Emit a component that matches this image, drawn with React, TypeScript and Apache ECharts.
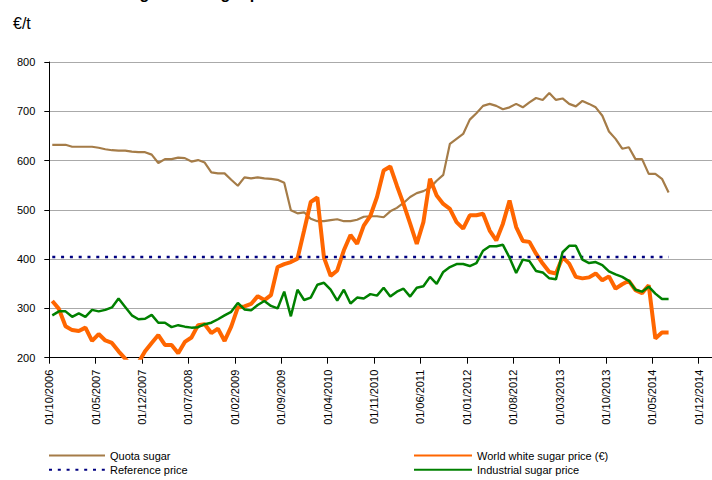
import React, { useEffect, useRef } from "react";
import * as echarts from "echarts";

// Tick labels every 7 months, starting at October 2006
const tickLabels = [
  "01/10/2006", "01/05/2007", "01/12/2007", "01/07/2008", "01/02/2009",
  "01/09/2009", "01/04/2010", "01/11/2010", "01/06/2011", "01/01/2012",
  "01/08/2012", "01/03/2013", "01/10/2013", "01/05/2014", "01/12/2014",
];

// Monthly values, October 2006 to July 2014 (EUR/t)
const quotaSugar = [
  632, 632, 632, 628, 628, 628, 628, 626, 623, 621,
  620, 620, 618, 617, 617, 612, 595, 603, 603, 606,
  605, 598, 601, 596, 576, 574, 574, 561, 549, 566,
  564, 566, 564, 563, 561, 555, 499, 493, 495, 482,
  477, 477, 479, 481, 477, 477, 480, 486, 487, 487,
  485, 497, 504, 514, 526, 534, 538, 545, 559, 571,
  634, 644, 654, 683, 696, 711, 715, 711, 704, 708,
  715, 708, 718, 727, 723, 737, 723, 726, 715, 710,
  721, 715, 708, 691, 659, 644, 624, 627, 603, 603,
  573, 573, 563, 535,
];

const worldWhiteSugar = [
  315, 299, 264, 256, 254, 261, 234, 248, 235, 230,
  213, 198, 182, 190, 213, 230, 246, 226, 226, 209,
  232, 241, 266, 268, 250, 259, 234, 263, 302, 304,
  309, 325, 317, 327, 384, 390, 394, 401, 458, 516,
  525, 403, 366, 377, 418, 449, 431, 468, 488, 526,
  580, 588, 549, 512, 472, 431, 475, 563, 529, 512,
  502, 475, 462, 489, 489, 492, 458, 438, 472, 519,
  465, 437, 435, 411, 391, 374, 371, 404, 391, 364,
  361, 363, 371, 357, 365, 340, 349, 356, 337, 331,
  347, 239, 251, 251,
];

const industrialSugar = [
  286, 294, 294, 283, 290, 283, 297, 294, 297, 302,
  320, 303, 286, 278, 279, 287, 271, 271, 262, 266,
  263, 261, 262, 268, 271, 278, 286, 293, 311, 298,
  296, 307, 315, 305, 300, 334, 284, 338, 317, 322,
  348, 352, 338, 316, 338, 310, 322, 320, 329, 326,
  342, 324, 334, 340, 324, 342, 345, 364, 350, 374,
  384, 390, 390, 386, 392, 417, 426, 426, 429, 403,
  372, 399, 396, 376, 373, 361, 359, 414, 427, 427,
  399, 392, 394, 388, 375, 369, 364, 356, 338, 334,
  344, 330, 319, 319,
];

const referencePrice = 404.4;

const seriesNames = [
  "Quota sugar",
  "World white sugar price (€)",
  "Reference price",
  "Industrial sugar price",
];

const TICK_STEP = 7; // months between tick labels
const MONTH_OFFSET = 0.45; // monthly values sit inside their month

const toPoints = (vals: number[]) => vals.map((v, i) => [i + MONTH_OFFSET, v]);

const FONT = "'Liberation Sans', Arial, Helvetica, sans-serif";

const legendBase = {
  orient: "vertical",
  top: 450,
  height: 40,
  padding: 0,
  itemHeight: 14,
  itemGap: 3,
  itemStyle: { opacity: 0 },
  textStyle: { fontSize: 11, color: "#000", fontFamily: FONT },
};

export default function App() {
  const ref = useRef<HTMLDivElement>(null);

  useEffect(() => {
    if (!ref.current) return;
    const chart = echarts.init(ref.current, null, { renderer: "svg" });
    const option: any = {
      animation: false,
      backgroundColor: "#ffffff",
      textStyle: { fontFamily: FONT },
      grid: { left: 49.3, top: 62, width: 665.7, height: 295.7, containLabel: false },
      graphic: [
        {
          type: "text",
          left: 24,
          top: -15,
          style: {
            text: "Evolution of sugar and sugar prices",
            font: `bold 16px ${FONT}`,
            fill: "#000",
          },
        },
        {
          type: "text",
          left: 13,
          top: 15,
          style: {
            text: "€/t",
            font: `16px ${FONT}`,
            fill: "#000",
          },
        },
      ],
      xAxis: {
        type: "value",
        min: 0,
        max: 100,
        interval: TICK_STEP,
        axisLine: { show: true, onZero: false, lineStyle: { color: "#000", width: 1 } },
        axisTick: { show: true, length: 6, lineStyle: { color: "#000", width: 1 } },
        splitLine: { show: false },
        axisLabel: {
          rotate: 90,
          margin: 12,
          fontSize: 11,
          color: "#000",
          fontFamily: FONT,
          showMaxLabel: false,
          formatter: (v: number) =>
            v % TICK_STEP === 0 && tickLabels[v / TICK_STEP] ? tickLabels[v / TICK_STEP] : "",
        },
      },
      yAxis: {
        type: "value",
        min: 200,
        max: 800,
        interval: 100,
        axisLine: { show: true, lineStyle: { color: "#000", width: 1 } },
        axisTick: { show: true, length: 5, lineStyle: { color: "#000", width: 1 } },
        splitLine: { show: true, lineStyle: { color: "#aaaaaa", width: 1.2 } },
        axisLabel: { fontSize: 11, color: "#000", margin: 14, fontFamily: FONT },
      },
      legend: [
        { ...legendBase, left: 48, itemWidth: 56, data: [seriesNames[0], seriesNames[2]] },
        { ...legendBase, left: 413, itemWidth: 58, data: [seriesNames[1], seriesNames[3]] },
      ],
      series: [
        {
          name: seriesNames[0],
          type: "line",
          data: toPoints(quotaSugar),
          symbol: "none",
          itemStyle: { color: "#a57c48" },
          lineStyle: { color: "#a57c48", width: 2.2 },
        },
        {
          name: seriesNames[1],
          type: "line",
          data: toPoints(worldWhiteSugar),
          symbol: "none",
          itemStyle: { color: "#ff6600" },
          lineStyle: { color: "#ff6600", width: 4 },
        },
        {
          name: seriesNames[2],
          type: "line",
          data: toPoints(quotaSugar.map(() => referencePrice)),
          symbol: "none",
          itemStyle: { color: "#000080" },
          lineStyle: { color: "#000080", width: 2.5, type: [3, 5.8], cap: "butt" },
        },
        {
          name: seriesNames[3],
          type: "line",
          data: toPoints(industrialSugar),
          symbol: "none",
          itemStyle: { color: "#008000" },
          lineStyle: { color: "#008000", width: 2.5 },
        },
      ],
    };
    chart.setOption(option);
    return () => chart.dispose();
  }, []);

  return (
    <div
      ref={ref}
      style={{ position: "fixed", left: 0, top: 0, width: 712, height: 480, background: "#fff" }}
    />
  );
}
